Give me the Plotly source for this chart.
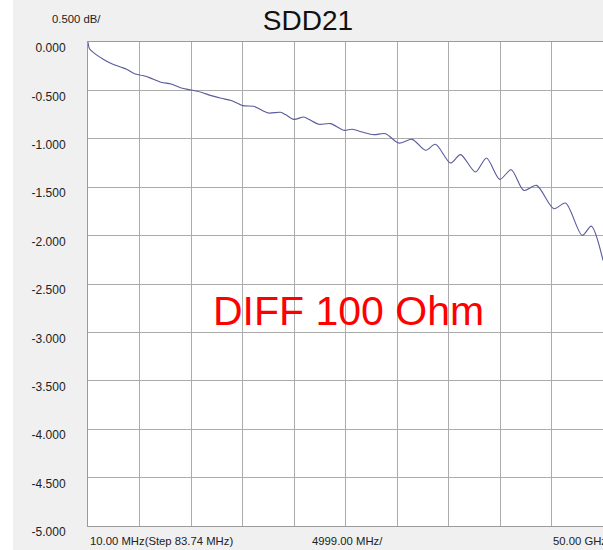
import plotly.graph_objects as go

# SDD21 insertion loss
freq_ghz = [0.01, 0.156, 0.641, 1.447, 2.262, 3.233, 3.718, 4.524, 5.329, 5.98,
            7.116, 8.086, 9.057, 10.028, 10.998, 11.969, 12.94, 13.91, 15.036,
            16.10, 16.75, 17.56, 18.70, 19.18, 19.99, 20.96, 21.44, 22.41, 23.55,
            24.84, 25.66, 26.63, 27.75, 28.89, 30.18, 31.48, 32.77, 33.74, 35.20,
            36.17, 37.62, 38.69, 39.98, 41.09, 42.31, 43.55, 45.23, 46.36, 47.98,
            48.86, 50.0]
sdd21_db = [0.000, -0.070, -0.118, -0.176, -0.223, -0.261, -0.279, -0.327, -0.347, -0.368,
            -0.416, -0.434, -0.475, -0.496, -0.520, -0.554, -0.582, -0.605, -0.657,
            -0.664, -0.698, -0.734, -0.726, -0.750, -0.799, -0.775, -0.799, -0.850, -0.843,
            -0.912, -0.902, -0.930, -0.957, -0.947, -1.044, -1.006, -1.119, -1.057, -1.250,
            -1.163, -1.343, -1.199, -1.419, -1.319, -1.533, -1.481, -1.722, -1.664, -1.998,
            -1.902, -2.256]

y_ticks = [0.0, -0.5, -1.0, -1.5, -2.0, -2.5, -3.0, -3.5, -4.0, -4.5, -5.0]
y_labels = ["0.000", "-0.500", "-1.000", "-1.500", "-2.000", "-2.500",
            "-3.000", "-3.500", "-4.000", "-4.500", "-5.000"]

start_label = "10.00 MHz(Step 83.74 MHz)"
span_label = "4999.00 MHz/"
stop_label = "50.00 GHz"
scale_label = "0.500 dB/"

fnt = "Liberation Sans, Arial, sans-serif"

fig = go.Figure()
fig.add_trace(go.Scatter(x=freq_ghz, y=sdd21_db, mode="lines",
                         line=dict(color="#5a5a9c", width=1.1, shape="spline", smoothing=0.8),
                         hoverinfo="skip"))

fig.update_layout(
    width=603, height=550,
    margin=dict(l=88, r=0, t=42, b=24),
    paper_bgcolor="#f0f0f0",
    plot_bgcolor="white",
    showlegend=False,
    font=dict(family=fnt, size=11, color="#222"),
    title=dict(text="SDD21", x=308 / 603, xanchor="center", y=1 - 20 / 550, yanchor="middle",
               font=dict(family=fnt, size=28, color="#111")),
)

fig.update_xaxes(range=[0.01, 50.0], tick0=0.01, dtick=4.999, showticklabels=False,
                 showgrid=True, gridcolor="#ababab", gridwidth=1, zeroline=False,
                 showline=True, linecolor="#9a9a9a", linewidth=1, mirror=True, ticks="")
fig.update_yaxes(range=[-5, 0], tickvals=y_ticks, ticktext=y_labels,
                 showgrid=True, gridcolor="#ababab", gridwidth=1, zeroline=False,
                 showline=True, linecolor="#9a9a9a", linewidth=1, mirror=True, ticks="",
                 tickfont=dict(family=fnt, size=12, color="#222"),
                 ticklabelstandoff=19, ticklabelshift=6)

# white strip on the left edge of the screenshot
fig.add_shape(type="rect", xref="paper", yref="paper",
              x0=-88 / 515, x1=-75 / 515, y0=-30 / 484, y1=1 + 50 / 484,
              fillcolor="white", line_width=0, layer="below")

fig.add_annotation(text=scale_label, xref="paper", yref="paper", x=-38 / 515, y=1 + 23 / 484,
                   xanchor="left", yanchor="middle", showarrow=False,
                   font=dict(family=fnt, size=11.3, color="#222"))
fig.add_annotation(text=start_label, xref="paper", yref="paper", x=0, y=-15 / 484,
                   xanchor="left", yanchor="middle", showarrow=False,
                   font=dict(family=fnt, size=11.3, color="#222"))
fig.add_annotation(text=span_label, xref="paper", yref="paper", x=222 / 515, y=-15 / 484,
                   xanchor="left", yanchor="middle", showarrow=False,
                   font=dict(family=fnt, size=11.3, color="#222"))
fig.add_annotation(text=stop_label, xref="paper", yref="paper", x=463 / 515, y=-15 / 484,
                   xanchor="left", yanchor="middle", showarrow=False,
                   font=dict(family=fnt, size=11.3, color="#222"))
fig.add_annotation(text="DIFF 100 Ohm", xref="paper", yref="paper", x=260 / 515, y=0.445,
                   xanchor="center", yanchor="middle", showarrow=False,
                   font=dict(family=fnt, size=41, color="#ff0000"))

# drop the browser's default 8px body margin so the figure sits at the window corner
fig.write_html("out.html", config={"displayModeBar": False},
               post_script="document.body.style.margin='0';")
